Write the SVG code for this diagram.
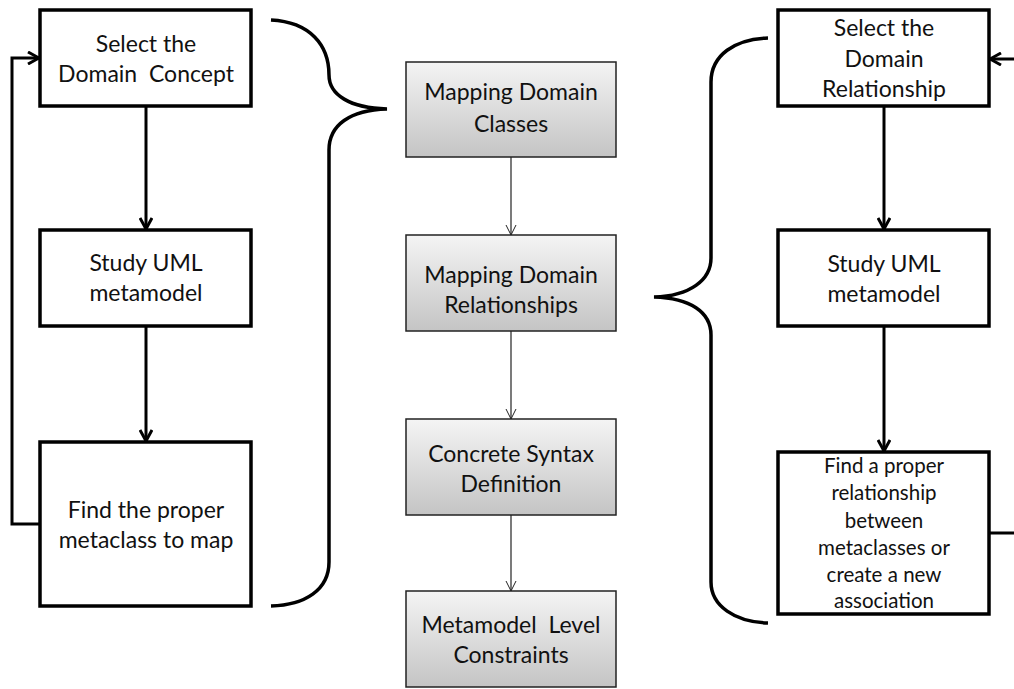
<svg xmlns="http://www.w3.org/2000/svg" width="1014" height="689" viewBox="0 0 1014 689">
<defs>
<linearGradient id="g" x1="0" y1="0" x2="0" y2="1">
<stop offset="0" stop-color="#f4f4f4"/>
<stop offset="1" stop-color="#c4c4c4"/>
</linearGradient>
<marker id="ah" markerWidth="14" markerHeight="14" viewBox="0 0 14 14" refX="12" refY="7" orient="auto" markerUnits="userSpaceOnUse">
<path d="M1,1 L12,7 L1,13" fill="none" stroke="#000" stroke-width="3"/>
</marker>
<marker id="at" markerWidth="14" markerHeight="14" viewBox="0 0 14 14" refX="13" refY="7" orient="auto" markerUnits="userSpaceOnUse">
<path d="M3,2 L13,7 L3,12" fill="none" stroke="#222" stroke-width="1"/>
</marker>
</defs>
<style>
.b{fill:#fff;stroke:#000;stroke-width:3.5}
.m{fill:url(#g);stroke:#222;stroke-width:1.5}
.t{font-family:Lato,"Liberation Sans",sans-serif;font-size:23px;fill:#111;text-anchor:middle;white-space:pre}
.s{font-family:Lato,"Liberation Sans",sans-serif;font-size:20.5px;fill:#111;text-anchor:middle}
.c{fill:none;stroke:#000;stroke-width:3}
.ct{fill:none;stroke:#222;stroke-width:1.2}
.br{fill:none;stroke:#000;stroke-width:3.5}
</style>
<g id="connectors">
<line class="c" x1="146" y1="106" x2="146" y2="229" marker-end="url(#ah)"/>
<line class="c" x1="146" y1="326" x2="146" y2="441" marker-end="url(#ah)"/>
<path class="c" d="M40,524 H12 V58 H39" marker-end="url(#ah)"/>
<line class="c" x1="884" y1="106" x2="884" y2="229" marker-end="url(#ah)"/>
<line class="c" x1="884" y1="326" x2="884" y2="451" marker-end="url(#ah)"/>
<path class="c" d="M989,533 H1030 V59 H990" marker-end="url(#ah)"/>
<line class="ct" x1="511" y1="157" x2="511" y2="235" marker-end="url(#at)"/>
<line class="ct" x1="511" y1="331" x2="511" y2="419" marker-end="url(#at)"/>
<line class="ct" x1="511" y1="515" x2="511" y2="591" marker-end="url(#at)"/>
<path class="br" d="M271,20 C310,22 329,45 329,75 C329,95 350,108 387,109 C350,110 329,125 329,150 V562 C329,590 305,605 271,606"/>
<path class="br" d="M768,38 C735,39 711,55 711,82 V258 C711,280 690,296 654,297 C690,298 711,312 711,335 V582 C711,606 735,622 768,623"/>
</g>
<g id="n1"><rect class="b" x="40" y="10" width="211" height="96"/><text class="t" x="146" y="52">Select the</text><text class="t" x="146" y="82">Domain  Concept</text></g>
<g id="n2"><rect class="b" x="40" y="230" width="211" height="96"/><text class="t" x="146" y="271">Study UML</text><text class="t" x="146" y="301">metamodel</text></g>
<g id="n3"><rect class="b" x="40" y="442" width="211" height="164"/><text class="t" x="146" y="518">Find the proper</text><text class="t" x="146" y="548">metaclass to map</text></g>
<g id="m1"><rect class="m" x="406" y="62" width="210" height="95"/><text class="t" x="511" y="100">Mapping Domain</text><text class="t" x="511" y="132">Classes</text></g>
<g id="m2"><rect class="m" x="406" y="235" width="210" height="96"/><text class="t" x="511" y="283">Mapping Domain</text><text class="t" x="511" y="313">Relationships</text></g>
<g id="m3"><rect class="m" x="406" y="419" width="210" height="96"/><text class="t" x="511" y="462">Concrete Syntax</text><text class="t" x="511" y="492">Definition</text></g>
<g id="m4"><rect class="m" x="406" y="591" width="210" height="96"/><text class="t" x="511" y="633">Metamodel  Level</text><text class="t" x="511" y="663">Constraints</text></g>
<g id="r1"><rect class="b" x="778" y="10" width="211" height="96"/><text class="t" x="884" y="36">Select the</text><text class="t" x="884" y="67">Domain</text><text class="t" x="884" y="97">Relationship</text></g>
<g id="r2"><rect class="b" x="778" y="230" width="211" height="96"/><text class="t" x="884" y="272">Study UML</text><text class="t" x="884" y="302">metamodel</text></g>
<g id="r3"><rect class="b" x="778" y="452" width="211" height="162"/><text class="s" x="884" y="473">Find a proper</text><text class="s" x="884" y="500">relationship</text><text class="s" x="884" y="528">between</text><text class="s" x="884" y="555">metaclasses or</text><text class="s" x="884" y="582">create a new</text><text class="s" x="884" y="608">association</text></g>
</svg>
